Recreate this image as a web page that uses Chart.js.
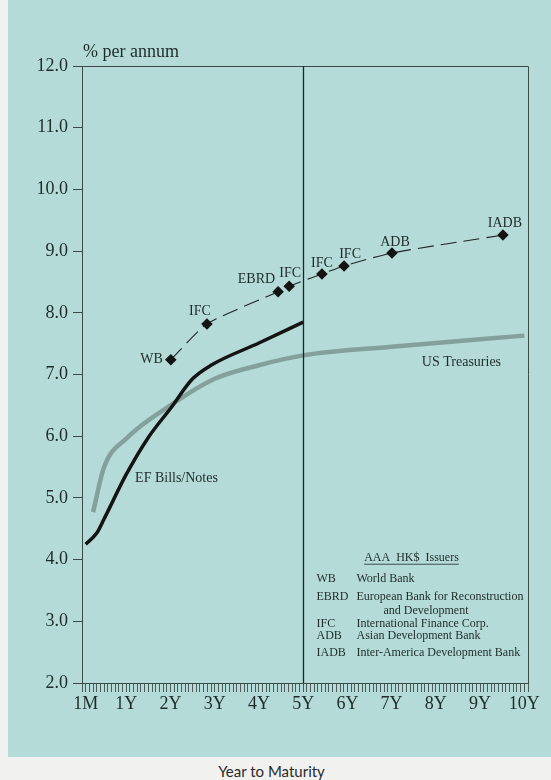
<!DOCTYPE html>
<html>
<head>
<meta charset="utf-8">
<script src="https://cdn.jsdelivr.net/npm/chart.js@4.4.1/dist/chart.umd.min.js"></script>
<style>
  body { margin: 0; background: #f1f2f0; width: 551px; height: 780px; position: relative; overflow: hidden; }
  #panel { position: absolute; left: 8px; top: 0; width: 543px; height: 757px; background: #b4dbd7; }
  #xtitle { position: absolute; left: 0; top: 763px; width: 543px; text-align: center;
            font: 15px Lato, "Open Sans", sans-serif; color: #2a2a2a; line-height: 17px; }
</style>
</head>
<body>
<div id="panel"><canvas id="curva" width="543" height="757"></canvas></div>
<div id="xtitle">Year to Maturity</div>
<script>
// rendimientos en % anual, plazos en meses
const efMonths = [1, 4, 6, 12, 18, 24, 30, 35, 48, 60];
const efYields = [4.25, 4.43, 4.66, 5.38, 5.98, 6.45, 6.93, 7.15, 7.51, 7.85];

const ustMonths = [3, 6, 12, 24, 36, 48, 60, 84, 120];
const ustYields = [4.77, 5.5, 5.96, 6.5, 6.93, 7.15, 7.31, 7.45, 7.63];

const issuerNames = ["WB", "IFC", "EBRD", "IFC", "IFC", "IFC", "ADB", "IADB"];
const issuerMonths = [24.1, 33.9, 53.2, 56.2, 65.1, 71.1, 84.1, 114.2];
const issuerYields = [7.24, 7.82, 8.34, 8.43, 8.63, 8.76, 8.97, 9.26];

const xTickMonths = [1, 12, 24, 36, 48, 60, 72, 84, 96, 108, 120];
const xTickLabels = ["1M", "1Y", "2Y", "3Y", "4Y", "5Y", "6Y", "7Y", "8Y", "9Y", "10Y"];

const keyRows = [
  ["WB", "World Bank"],
  ["EBRD", "European Bank for Reconstruction"],
  ["", "and Development"],
  ["IFC", "International Finance Corp."],
  ["ADB", "Asian Development Bank"],
  ["IADB", "Inter-America Development Bank"]
];

// posicion de cada etiqueta respecto a su rombo
const labelPlace = [
  { dx: -8, dy: 0, align: "right" },
  { dx: -7, dy: -13, align: "center" },
  { dx: -3, dy: -12, align: "right" },
  { dx: 1, dy: -13, align: "center" },
  { dx: 0, dy: -11, align: "center" },
  { dx: 6, dy: -12, align: "center" },
  { dx: 3, dy: -11, align: "center" },
  { dx: 2, dy: -12, align: "center" }
];
const keyRowDy = [21, 39, 53, 66, 78, 95];

const toPoints = (xs, ys) => xs.map((x, i) => ({ x: x, y: ys[i] }));
const ink = "#1f2b29";
const serif = "'Liberation Serif', 'DejaVu Serif', serif";

const extras = {
  id: "extras",
  afterDatasetsDraw(chart) {
    const ctx = chart.ctx;
    const a = chart.chartArea;
    const xs = chart.scales.x, ys = chart.scales.y;
    ctx.save();

    // marco superior y derecho
    ctx.strokeStyle = "#3b4947";
    ctx.lineWidth = 1;
    ctx.beginPath();
    ctx.moveTo(a.left, a.top + 0.5);
    ctx.lineTo(a.right + 0.5, a.top + 0.5);
    ctx.lineTo(a.right + 0.5, a.bottom);
    ctx.stroke();

    // linea de 5 anos
    const x5 = Math.round(xs.getPixelForValue(60)) + 0.5;
    ctx.strokeStyle = "#1d2624";
    ctx.lineWidth = 1.3;
    ctx.beginPath();
    ctx.moveTo(x5, a.top);
    ctx.lineTo(x5, a.bottom);
    ctx.stroke();

    ctx.fillStyle = ink;
    ctx.textBaseline = "alphabetic";
    ctx.textAlign = "left";
    ctx.font = "18px " + serif;
    ctx.fillText("% per annum", a.left + 1, a.top - 9);

    // etiquetas de emisores
    ctx.font = "14px " + serif;
    ctx.textBaseline = "middle";
    const meta = chart.getDatasetMeta(2);
    meta.data.forEach((pt, i) => {
      const p = labelPlace[i];
      ctx.textAlign = p.align;
      ctx.fillText(issuerNames[i], pt.x + p.dx, pt.y + p.dy);
    });

    ctx.textAlign = "left";
    ctx.fillText("EF Bills/Notes", xs.getPixelForValue(14.4), ys.getPixelForValue(5.32));
    ctx.fillText("US Treasuries", xs.getPixelForValue(92.2), ys.getPixelForValue(7.2));

    // recuadro de emisores
    ctx.font = "12px " + serif;
    const ty = ys.getPixelForValue(4.03);
    const title = "AAA  HK$  Issuers";
    const tx = x5 + 108;
    ctx.textAlign = "center";
    ctx.fillText(title, tx, ty);
    const tw = ctx.measureText(title).width;
    ctx.lineWidth = 0.8;
    ctx.strokeStyle = ink;
    ctx.beginPath();
    ctx.moveTo(tx - tw / 2, ty + 6.5);
    ctx.lineTo(tx + tw / 2, ty + 6.5);
    ctx.stroke();

    ctx.textAlign = "left";
    keyRows.forEach((row, i) => {
      const y = ty + keyRowDy[i];
      if (row[0]) {
        ctx.fillText(row[0], x5 + 13, y);
        ctx.fillText(row[1], x5 + 53, y);
      } else {
        ctx.fillText(row[1], x5 + 80, y);
      }
    });
    ctx.restore();
  }
};

new Chart(document.getElementById("curva"), {
  type: "line",
  data: {
    datasets: [
      {
        label: "EF Bills/Notes",
        data: toPoints(efMonths, efYields),
        borderColor: "#141414",
        borderWidth: 3.5,
        pointRadius: 0,
        cubicInterpolationMode: "monotone"
      },
      {
        label: "US Treasuries",
        data: toPoints(ustMonths, ustYields),
        borderColor: "#84a09d",
        borderWidth: 4.5,
        pointRadius: 0,
        cubicInterpolationMode: "monotone"
      },
      {
        label: "AAA HK$ Issuers",
        data: toPoints(issuerMonths, issuerYields),
        borderColor: "#1e2524",
        borderWidth: 1.1,
        borderDash: [16, 7],
        pointStyle: "rectRot",
        pointRadius: 5,
        pointBackgroundColor: "#141414",
        pointBorderColor: "#141414",
        tension: 0.2
      }
    ]
  },
  options: {
    responsive: false,
    animation: false,
    devicePixelRatio: 1,
    layout: { padding: { top: 66, right: 23, left: 0, bottom: 0 } },
    plugins: {
      legend: { display: false },
      tooltip: { enabled: false }
    },
    scales: {
      x: {
        type: "linear",
        min: 0,
        max: 121,
        afterFit: function (s) { s.height = 74; },
        border: { display: true, color: "#3b4947", width: 1 },
        grid: { drawOnChartArea: false, drawTicks: true, tickLength: 9, color: "#4b5c5a", lineWidth: 1 },
        ticks: {
          stepSize: 1,
          autoSkip: false,
          maxRotation: 0,
          minRotation: 0,
          padding: 1,
          color: ink,
          font: { family: serif, size: 18 },
          callback: function (v) {
            const k = xTickMonths.indexOf(v);
            return k >= 0 ? xTickLabels[k] : "";
          }
        }
      },
      y: {
        min: 2,
        max: 12,
        afterFit: function (s) { s.width = 74; },
        border: { display: true, color: "#3b4947", width: 1 },
        grid: { drawOnChartArea: false, drawTicks: true, tickLength: 9, color: "#3b4947", lineWidth: 1 },
        ticks: {
          stepSize: 1,
          padding: 5,
          color: ink,
          font: { family: serif, size: 18 },
          callback: function (v) { return v.toFixed(1); }
        }
      }
    }
  },
  plugins: [extras]
});
</script>
</body>
</html>
